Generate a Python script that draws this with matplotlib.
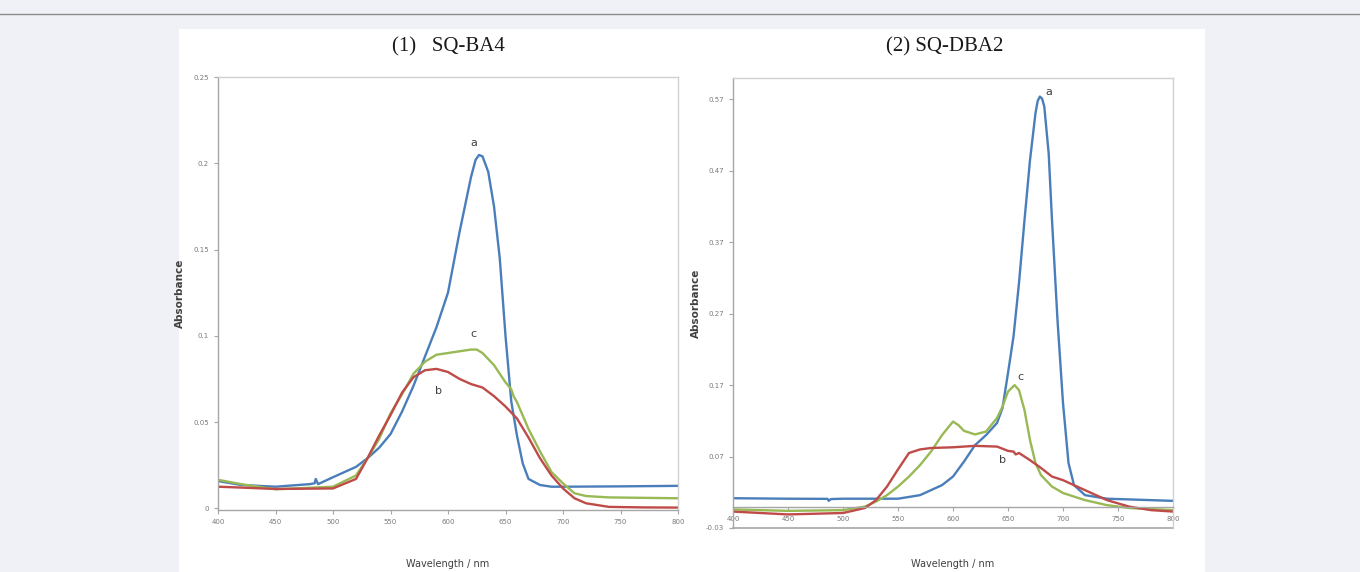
import numpy as np
import matplotlib.pyplot as plt
from matplotlib.lines import Line2D
from matplotlib.patches import Rectangle

# %% data -------------------------------------------------------------------
# (1) SQ-BA4
wl1_a = [400, 420, 450, 480, 484, 485, 487, 500, 520, 530, 540, 550, 560, 570, 580, 590,
         600, 610, 620, 624, 627, 630, 635, 640, 645, 650, 655, 660, 665, 670, 680, 690, 700, 750, 800]
ab1_a = [0.0158, 0.0135, 0.0125, 0.0140, 0.0145, 0.0170, 0.0140, 0.0180, 0.0240, 0.0290, 0.0350,
         0.0430, 0.0560, 0.0710, 0.0880, 0.1050, 0.1250, 0.1600, 0.1920, 0.2020, 0.2048, 0.2040,
         0.1950, 0.1750, 0.1450, 0.1000, 0.0620, 0.0420, 0.0260, 0.0170, 0.0135, 0.0125,
         0.0125, 0.0127, 0.0130]
wl1_b = [400, 420, 450, 500, 520, 530, 540, 550, 560, 570, 580, 590, 600, 610, 620, 630,
         640, 650, 660, 670, 680, 690, 700, 710, 720, 740, 770, 800]
ab1_b = [0.0125, 0.0120, 0.0112, 0.0115, 0.0170, 0.0290, 0.0420, 0.0540, 0.0670, 0.0760,
         0.0800, 0.0808, 0.0790, 0.0750, 0.0720, 0.0700, 0.0650, 0.0590, 0.0520, 0.0410,
         0.0290, 0.0190, 0.0115, 0.0058, 0.0029, 0.0008, 0.0005, 0.0004]
wl1_c = [400, 420, 450, 500, 520, 530, 540, 550, 560, 570, 580, 590, 600, 610, 620, 625,
         630, 640, 650, 655, 657, 660, 670, 680, 690, 700, 710, 720, 740, 800]
ab1_c = [0.0165, 0.0140, 0.0110, 0.0125, 0.0190, 0.0290, 0.0400, 0.0550, 0.0660, 0.0780,
         0.0850, 0.0890, 0.0900, 0.0910, 0.0920, 0.0920, 0.0900, 0.0830, 0.0730, 0.0690,
         0.0650, 0.0615, 0.0460, 0.0330, 0.0210, 0.0144, 0.0087, 0.0071, 0.0063, 0.0058]

# (2) SQ-DBA2
wl2_a = [400, 450, 486, 487, 489, 500, 550, 570, 580, 590, 600, 610, 620, 630, 640, 645,
         650, 655, 660, 665, 670, 675, 677, 679, 681, 683, 687, 690, 695, 700, 705, 710, 720, 740, 800]
ab2_a = [0.0117, 0.0110, 0.0108, 0.0080, 0.0105, 0.0110, 0.0110, 0.0160, 0.0230, 0.0300,
         0.0420, 0.0630, 0.0860, 0.1000, 0.1170, 0.1380, 0.1870, 0.2380, 0.3130, 0.4010,
         0.4850, 0.5510, 0.5680, 0.5740, 0.5710, 0.5600, 0.4940, 0.4010, 0.2610, 0.1450,
         0.0610, 0.0300, 0.0160, 0.0110, 0.0080]
wl2_b = [400, 450, 500, 520, 530, 540, 550, 560, 570, 580, 600, 620, 640, 650, 655, 657,
         660, 670, 680, 690, 700, 710, 720, 740, 760, 780, 800]
ab2_b = [-0.0070, -0.0110, -0.0090, -0.0020, 0.0090, 0.0280, 0.0520, 0.0750, 0.0800, 0.0820,
         0.0830, 0.0850, 0.0840, 0.0780, 0.0770, 0.0730, 0.0750, 0.0650, 0.0540, 0.0420,
         0.0370, 0.0300, 0.0230, 0.0090, 0.0000, -0.0050, -0.0070]
wl2_c = [400, 450, 500, 520, 530, 540, 550, 560, 570, 580, 590, 600, 605, 610, 620, 630,
         640, 645, 650, 656, 660, 665, 670, 675, 680, 690, 700, 720, 740, 760, 800]
ab2_c = [-0.0040, -0.0060, -0.0050, 0.0000, 0.0070, 0.0160, 0.0280, 0.0420, 0.0580, 0.0770,
         0.1000, 0.1190, 0.1140, 0.1060, 0.1010, 0.1050, 0.1240, 0.1400, 0.1610, 0.1700,
         0.1630, 0.1350, 0.0930, 0.0610, 0.0440, 0.0280, 0.0190, 0.0090, 0.0020, -0.0020,
         -0.0050]

titles = ['(1)   SQ-BA4', '(2) SQ-DBA2']
yticks1 = [0, 0.05, 0.1, 0.15, 0.2, 0.25]
ytick1_lbl = ['0', '0.05', '0.1', '0.15', '0.2', '0.25']
yticks2 = [-0.03, 0.07, 0.17, 0.27, 0.37, 0.47, 0.57]
ytick2_lbl = ['-0.03', '0.07', '0.17', '0.27', '0.37', '0.47', '0.57']
xticks = [400, 450, 500, 550, 600, 650, 700, 750, 800]
lbl1 = {'a': (622.6, 0.212), 'c': (621.8, 0.101), 'b': (591.8, 0.068)}
lbl2 = {'a': (687.0, 0.580), 'c': (661.0, 0.182), 'b': (645.0, 0.065)}

C_A, C_B, C_C = '#4a7ebb', '#be4b48', '#98b954'
GRAY = '#a6a6a6'

# %% figure ---------------------------------------------------------------
W, H = 1360, 572
fig = plt.figure(figsize=(W / 100, H / 100), dpi=100, facecolor='#f0f1f6')
fig.add_artist(Rectangle((179 / W, 0), (1205 - 179) / W, 1 - 29 / H,
                         transform=fig.transFigure, facecolor='white', edgecolor='none', zorder=0))
fig.add_artist(Line2D([0, 1], [1 - 14 / H] * 2, transform=fig.transFigure, color='#8c8c8c', lw=1))

ax1 = fig.add_axes([218 / W, 1 - 510 / H, (678 - 218) / W, (510 - 77) / H])
ax2 = fig.add_axes([733 / W, 1 - 528 / H, (1173 - 733) / W, (528 - 78) / H])


def style(ax):
    for s in ax.spines.values():
        s.set_color('#d0d0d0'); s.set_linewidth(1)
    ax.spines['left'].set_color(GRAY); ax.spines['bottom'].set_color(GRAY)
    ax.tick_params(labelsize=5, colors=GRAY, labelcolor='#7a7a7a', length=3, width=0.8)
    ax.set_xlim(400, 800)
    ax.set_xticks(xticks)
    ax.set_ylabel('Absorbance', fontsize=7.5, fontweight='bold', color='#404040')
    ax.set_xlabel('Wavelength / nm', fontsize=7, color='#404040')


# (1)
for wl, ab, c in [(wl1_a, ab1_a, C_A), (wl1_c, ab1_c, C_C), (wl1_b, ab1_b, C_B)]:
    ax1.plot(wl, ab, color=c, lw=1.7)
style(ax1)
ax1.set_ylim(-0.001, 0.25)
ax1.set_yticks(yticks1, ytick1_lbl)
ax1.yaxis.set_label_coords(-0.072, 0.5)
ax1.xaxis.set_label_coords(0.5, -0.113)
for k, (x, y) in lbl1.items():
    ax1.text(x, y, k, fontsize=8, color='#404040', ha='center', va='center')

# (2)
for wl, ab, c in [(wl2_a, ab2_a, C_A), (wl2_c, ab2_c, C_C), (wl2_b, ab2_b, C_B)]:
    ax2.plot(wl, ab, color=c, lw=1.7)
style(ax2)
ax2.set_ylim(-0.03, 0.60)
ax2.set_yticks(yticks2, ytick2_lbl)
ax2.spines['bottom'].set_position(('data', 0))
ax2.axhline(-0.03, color=GRAY, lw=1.2, clip_on=False)
ax2.tick_params(axis='x', pad=4)
ax2.yaxis.set_label_coords(-0.073, 0.5)
ax2.xaxis.set_label_coords(0.5, -0.069)
for k, (x, y) in lbl2.items():
    ax2.text(x, y, k, fontsize=8, color='#404040', ha='center', va='center')

for t, xc in zip(titles, [448, 945]):
    fig.text(xc / W, 1 - 47 / H, t, fontsize=15, family=['Liberation Serif', 'DejaVu Serif'],
             ha='center', va='center', color='#1a1a1a')

fig.savefig('out.png', dpi=100, facecolor=fig.get_facecolor())
